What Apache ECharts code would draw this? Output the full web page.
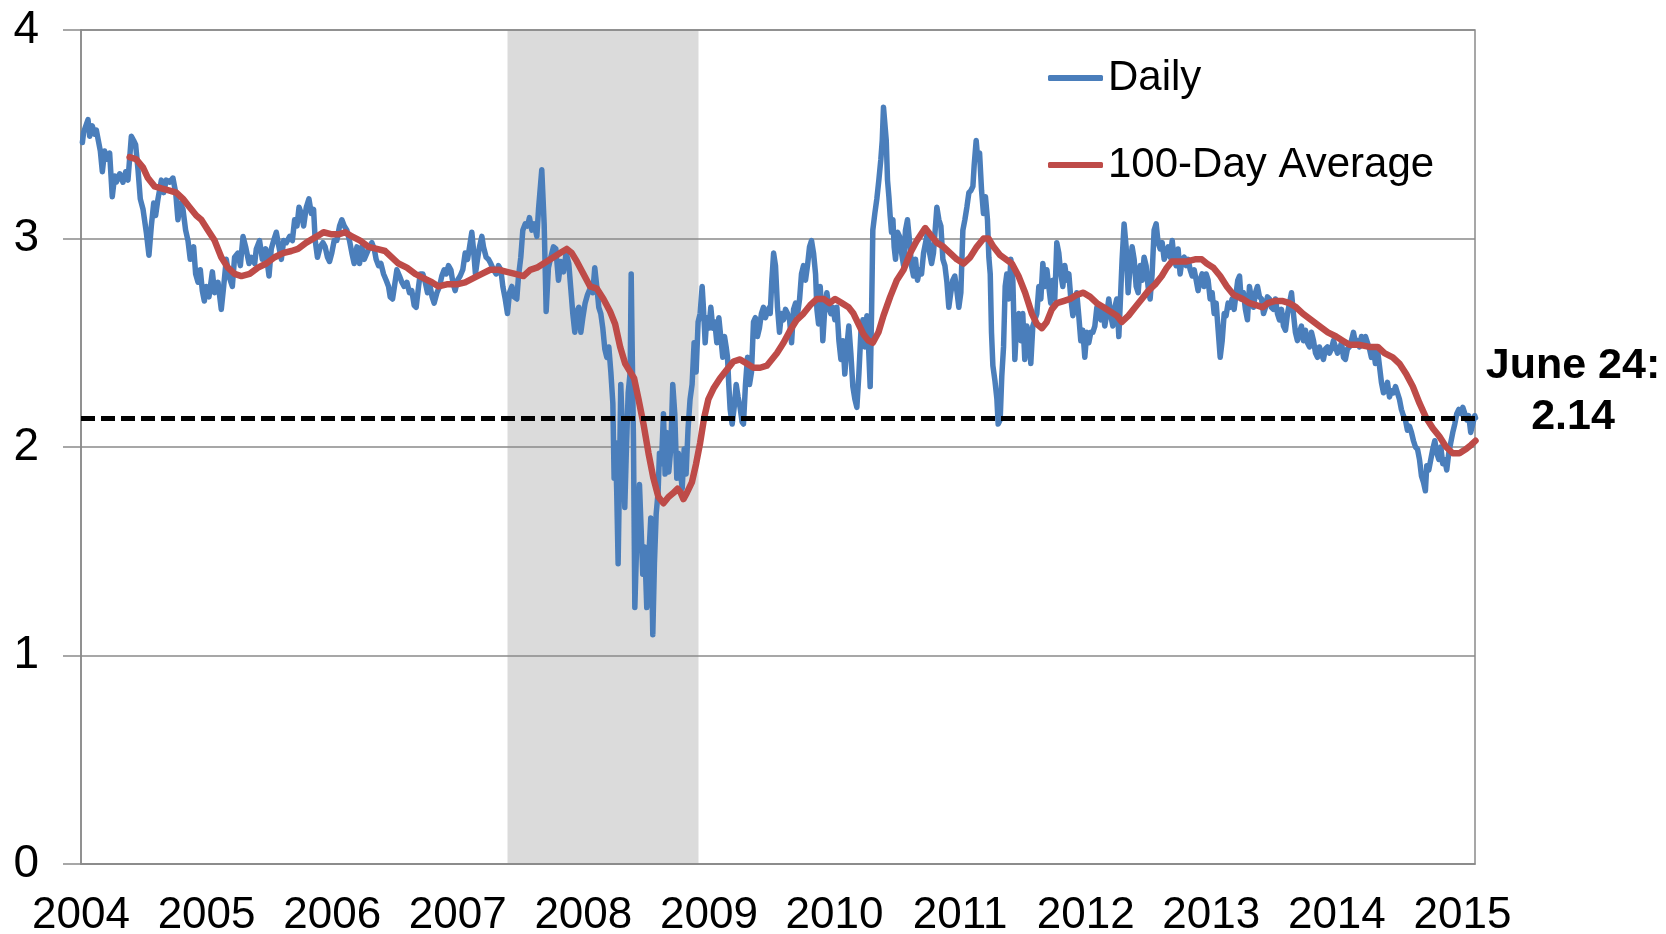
<!DOCTYPE html>
<html>
<head>
<meta charset="utf-8">
<title>Daily and 100-Day Average</title>
<script src="https://cdn.jsdelivr.net/npm/echarts@6/dist/echarts.min.js"></script>
<style>
    html, body {margin: 0; padding: 0; background: #fff;}
    #chart {width: 1666px; height: 934px;}
</style>
</head>
<body>
<div id="chart"></div>
<script>
var dailyDates = [
    2004.011,2004.021,2004.056,2004.069,2004.090,2004.109,2004.122,2004.138,2004.154,2004.170,2004.188,2004.207,2004.228,2004.249,2004.268,2004.281,2004.308,2004.334,2004.356,2004.374,
    2004.401,2004.419,2004.435,2004.454,2004.472,2004.494,2004.520,2004.541,2004.560,2004.579,2004.594,2004.613,2004.640,2004.658,2004.679,2004.706,2004.732,2004.754,2004.772,2004.791,
    2004.812,2004.833,2004.852,2004.870,2004.897,2004.913,2004.932,2004.950,2004.966,2004.982,2004.998,2005.019,2005.046,2005.064,2005.091,2005.117,2005.136,2005.157,2005.178,2005.205,
    2005.223,2005.250,2005.269,2005.290,2005.311,2005.338,2005.356,2005.383,2005.396,2005.422,2005.444,2005.470,2005.497,2005.515,2005.534,2005.555,2005.576,2005.595,2005.614,2005.635,
    2005.661,2005.683,2005.701,2005.720,2005.736,2005.754,2005.773,2005.794,2005.815,2005.834,2005.852,
    2005.865,2005.883,2005.905,2005.926,2005.944,2005.963,2005.979,2005.997,2006.016,2006.037,2006.059,2006.077,2006.096,2006.117,2006.138,2006.157,2006.175,2006.197,2006.218,2006.236,
    2006.255,2006.276,2006.297,2006.316,2006.335,2006.350,2006.369,2006.388,2006.409,2006.430,2006.449,2006.462,2006.481,2006.496,2006.515,2006.536,2006.555,2006.573,2006.595,2006.616,
    2006.634,2006.653,2006.669,2006.688,2006.701,2006.722,2006.741,2006.759,2006.780,2006.796,2006.812,2006.834,2006.855,2006.873,2006.892,2006.908,2006.926,2006.945,2006.961,2006.979,
    2006.998,2007.019,2007.040,2007.059,2007.078,2007.094,2007.112,2007.125,2007.141,2007.157,2007.173,2007.192,2007.205,2007.226,2007.245,2007.263,2007.285,2007.306,2007.324,2007.343,
    2007.359,2007.378,2007.396,2007.412,2007.431,2007.449,2007.470,2007.484,2007.502,2007.518,2007.537,2007.555,2007.571,2007.590,2007.608,2007.630,2007.643,
    2007.669,2007.688,2007.704,2007.722,2007.741,2007.762,2007.781,2007.802,2007.821,2007.842,2007.863,2007.884,2007.900,2007.916,2007.932,2007.948,2007.964,2007.980,2007.996,2008.014,
    2008.033,2008.054,2008.075,2008.091,2008.107,2008.123,2008.139,2008.155,2008.171,2008.187,2008.203,2008.219,2008.235,2008.245,2008.256,2008.266,2008.277,2008.288,2008.298,2008.314,
    2008.330,2008.341,2008.357,2008.373,2008.381,2008.389,2008.399,2008.410,2008.420,2008.431,2008.447,2008.460,2008.473,2008.489,2008.505,2008.521,2008.537,2008.553,2008.566,2008.580,
    2008.595,2008.606,2008.622,2008.638,2008.651,2008.664,2008.680,2008.696,2008.712,2008.728,2008.744,2008.757,2008.771,2008.787,2008.803,2008.818,2008.834,2008.850,2008.866,2008.882,
    2008.898,2008.914,2008.930,2008.946,2008.956,2008.970,2008.983,2008.999,2009.015,2009.031,2009.047,2009.063,2009.079,2009.094,2009.110,2009.124,2009.137,2009.148,2009.158,2009.169,
    2009.185,2009.201,2009.217,2009.232,2009.248,2009.264,2009.275,2009.291,2009.307,2009.323,2009.339,2009.355,2009.370,2009.386,2009.402,2009.418,2009.434,2009.450,2009.466,2009.482,
    2009.488,2009.501,2009.515,2009.530,2009.546,2009.562,2009.578,2009.594,2009.610,2009.626,2009.642,2009.658,2009.674,2009.690,2009.706,2009.722,2009.737,2009.753,2009.769,2009.785,
    2009.801,2009.817,2009.833,2009.849,2009.860,2009.873,2009.886,2009.899,2009.907,2009.923,2009.939,2009.955,2009.971,2009.987,2010.003,2010.019,2010.035,2010.051,2010.067,2010.082,
    2010.098,2010.114,2010.130,2010.146,2010.162,2010.178,2010.194,2010.210,2010.226,2010.242,2010.258,2010.271,2010.284,2010.295,2010.305,2010.321,2010.337,2010.353,2010.369,2010.380,
    2010.390,2010.401,2010.412,2010.422,2010.433,2010.443,2010.454,2010.465,2010.475,2010.486,2010.502,2010.518,2010.534,2010.550,2010.565,2010.581,2010.597,2010.613,2010.629,2010.645,
    2010.661,2010.677,2010.693,2010.709,2010.725,2010.741,2010.757,2010.773,2010.788,2010.804,2010.815,2010.831,2010.847,2010.863,2010.879,2010.895,2010.910,2010.926,2010.942,2010.958,
    2010.974,2010.990,2011.006,2011.022,2011.038,2011.054,2011.070,2011.086,2011.102,2011.112,2011.128,2011.139,2011.155,2011.171,2011.186,2011.202,2011.218,2011.229,2011.240,2011.250,
    2011.261,2011.277,2011.293,2011.303,
    2011.319,2011.332,2011.346,2011.359,2011.372,2011.388,2011.404,2011.420,2011.436,2011.452,2011.468,2011.484,2011.499,2011.515,2011.531,2011.547,2011.563,2011.579,2011.595,2011.611,
    2011.627,2011.643,2011.659,2011.675,2011.691,2011.706,2011.722,2011.738,2011.754,2011.770,2011.786,2011.802,2011.818,2011.834,2011.850,2011.866,2011.882,2011.898,2011.913,2011.929,
    2011.945,2011.961,2011.977,2011.993,2012.009,2012.025,2012.041,2012.057,2012.073,2012.089,2012.105,2012.121,2012.136,2012.152,2012.168,2012.184,2012.200,2012.216,2012.232,2012.248,
    2012.264,2012.274,2012.290,2012.306,2012.322,2012.338,2012.354,2012.370,2012.386,2012.402,2012.418,2012.434,2012.450,2012.465,2012.481,2012.497,2012.513,2012.529,2012.545,2012.561,
    2012.577,2012.593,2012.609,2012.625,2012.641,2012.657,2012.673,2012.689,2012.704,2012.720,2012.736,2012.752,2012.768,2012.784,2012.800,2012.816,2012.832,2012.848,2012.864,2012.880,
    2012.895,2012.911,2012.927,2012.943,2012.959,2012.975,2012.991,2013.007,2013.023,2013.039,2013.055,2013.071,2013.087,2013.103,2013.118,2013.134,2013.150,2013.166,2013.182,
    2013.211,2013.225,2013.238,2013.256,2013.272,2013.288,2013.304,2013.320,2013.336,2013.352,2013.368,2013.384,2013.400,2013.416,2013.432,2013.447,2013.463,2013.479,2013.495,2013.511,
    2013.527,2013.543,2013.559,2013.575,2013.591,2013.607,2013.623,2013.639,2013.654,2013.670,2013.686,2013.702,2013.718,2013.734,2013.750,2013.766,2013.782,2013.798,2013.814,2013.830,
    2013.846,2013.861,2013.877,2013.893,2013.909,2013.925,2013.941,2013.957,2013.973,2013.989,2014.005,2014.021,2014.037,2014.053,2014.068,2014.084,2014.100,2014.116,2014.132,2014.148,
    2014.164,2014.180,2014.196,2014.212,2014.228,2014.244,2014.260,2014.275,2014.291,2014.307,2014.323,2014.339,2014.355,2014.371,2014.387,2014.403,2014.419,2014.435,2014.451,2014.467,
    2014.482,2014.498,2014.514,2014.530,2014.546,2014.562,2014.578,2014.594,2014.610,2014.626,2014.642,2014.658,2014.674,2014.690,2014.705,2014.716,2014.732,2014.748,2014.764,2014.780,
    2014.796,2014.812,2014.828,2014.843,2014.859,2014.875,2014.891,2014.907,2014.923,2014.939,2014.955,2014.971,2014.987,2015.003,2015.019,2015.035,2015.050,2015.066,2015.082,2015.098,
    2015.104
];
var dailyValues = [
    3.46,3.51,3.57,3.49,3.54,3.50,3.52,3.47,3.42,3.32,3.42,3.38,3.41,3.20,3.30,3.27,3.31,3.27,3.32,3.28,
    3.49,3.47,3.45,3.33,3.19,3.14,3.03,2.92,3.06,3.17,3.11,3.19,3.28,3.22,3.28,3.27,3.29,3.22,3.09,3.17,
    3.14,3.04,2.99,2.90,2.96,2.83,2.79,2.85,2.75,2.70,2.77,2.72,2.84,2.74,2.79,2.66,2.77,2.90,2.82,2.77,
    2.91,2.93,2.87,3.01,2.96,2.88,2.91,2.88,2.95,2.99,2.90,2.95,2.82,2.95,2.99,3.03,2.96,2.90,2.99,2.98,
    3.01,2.99,3.09,3.06,3.15,3.12,3.06,3.15,3.19,3.12,3.14,
    2.99,2.91,2.96,2.98,2.96,2.91,2.89,2.93,2.99,2.99,3.06,3.09,3.06,3.04,2.99,2.93,2.88,2.96,2.88,2.96,
    2.90,2.93,2.96,2.98,2.95,2.90,2.87,2.88,2.83,2.80,2.77,2.72,2.71,2.77,2.85,2.82,2.79,2.77,2.79,2.74,
    2.75,2.68,2.67,2.77,2.83,2.83,2.79,2.74,2.77,2.72,2.69,2.74,2.77,2.82,2.85,2.83,2.87,2.85,2.79,2.75,
    2.80,2.82,2.85,2.93,2.90,2.96,3.03,2.95,2.83,2.90,2.96,3.01,2.96,2.91,2.90,2.88,2.85,2.83,2.87,2.85,
    2.77,2.71,2.64,2.74,2.77,2.72,2.71,2.82,2.91,3.04,3.07,3.06,3.10,3.04,3.07,3.01,3.14,
    3.33,3.07,2.65,2.86,2.91,2.96,2.95,2.80,2.89,2.84,2.93,2.88,2.76,2.64,2.55,2.65,2.67,2.55,2.62,2.69,
    2.73,2.76,2.74,2.86,2.77,2.67,2.64,2.57,2.47,2.43,2.48,2.36,2.21,1.85,2.02,1.78,1.44,1.87,2.30,2.04,
    1.71,1.95,2.26,2.36,2.83,2.47,2.04,1.23,1.44,1.64,1.82,1.61,1.39,1.52,1.23,1.47,1.66,1.10,1.44,1.68,
    1.78,1.97,1.92,2.16,1.87,2.07,1.88,1.99,2.30,2.16,1.85,1.97,1.90,1.80,1.99,1.87,2.09,2.23,2.30,2.50,
    2.36,2.60,2.64,2.77,2.67,2.50,2.62,2.57,2.67,2.57,2.60,2.50,2.62,2.53,2.43,2.53,2.48,2.43,2.30,2.18,
    2.11,2.19,2.30,2.24,2.19,2.12,2.11,2.30,2.43,2.30,2.36,2.60,2.62,2.53,2.57,2.64,2.67,2.62,2.65,2.67,
    2.64,2.80,2.93,2.87,2.67,2.55,2.64,2.61,2.66,2.64,2.61,2.50,2.66,2.69,2.64,2.71,2.83,2.87,2.80,2.87,
    2.96,2.99,2.93,2.83,2.66,2.59,2.77,2.64,2.51,2.67,2.74,2.67,2.64,2.67,2.61,2.67,2.51,2.42,2.51,2.35,
    2.48,2.58,2.45,2.29,2.23,2.19,2.35,2.55,2.61,2.48,2.63,2.48,2.29,2.64,3.04,3.12,3.19,3.28,3.38,3.47,
    3.63,3.63,3.47,3.28,3.20,3.11,3.03,3.09,2.96,2.90,3.03,3.01,2.93,2.87,3.04,3.09,2.99,2.87,2.82,2.90,
    2.80,2.85,2.83,2.93,2.98,3.03,2.93,2.88,2.93,3.06,3.15,3.09,3.06,2.90,2.87,2.79,2.67,2.74,2.80,2.82,
    2.75,2.67,2.74,3.04,3.09,3.15,3.22,3.23,3.25,3.35,3.47,3.39,3.41,3.23,3.12,3.20,3.09,2.91,2.83,2.55,
    2.39,2.32,2.23,2.11,
    2.13,2.34,2.48,2.77,2.83,2.71,2.90,2.80,2.42,2.61,2.64,2.51,2.64,2.42,2.58,2.55,2.40,2.58,2.61,2.64,
    2.77,2.71,2.88,2.77,2.85,2.77,2.69,2.80,2.71,2.98,2.93,2.83,2.77,2.87,2.80,2.83,2.71,2.63,2.67,2.74,
    2.63,2.51,2.56,2.43,2.55,2.50,2.55,2.55,2.58,2.67,2.63,2.61,2.67,2.58,2.64,2.71,2.63,2.58,2.67,2.71,
    2.53,2.67,2.90,3.07,2.96,2.74,2.87,2.96,2.90,2.77,2.74,2.87,2.80,2.91,2.87,2.77,2.71,2.83,3.04,3.07,
    2.98,2.95,2.98,2.90,2.93,2.96,2.91,2.99,2.90,2.87,2.95,2.83,2.90,2.91,2.87,2.90,2.85,2.82,2.85,2.80,
    2.75,2.80,2.83,2.77,2.83,2.80,2.71,2.74,2.64,2.69,2.56,2.43,2.51,2.64,2.63,2.69,2.67,2.71,2.66,
    2.80,2.82,2.71,2.74,2.66,2.61,2.77,2.71,2.67,2.74,2.77,2.72,2.71,2.64,2.67,2.72,2.71,2.67,2.66,2.71,
    2.64,2.61,2.66,2.58,2.56,2.64,2.69,2.74,2.64,2.55,2.51,2.55,2.58,2.51,2.56,2.50,2.48,2.55,2.51,2.45,
    2.43,2.48,2.45,2.42,2.47,2.48,2.45,2.47,2.51,2.48,2.45,2.47,2.50,2.43,2.42,2.47,2.48,2.51,2.55,2.50,
    2.51,2.48,2.53,2.51,2.53,2.50,2.47,2.43,2.47,2.40,2.47,2.39,2.31,2.26,2.27,2.31,2.24,2.27,2.26,2.29,
    2.26,2.23,2.18,2.15,2.13,2.08,2.10,2.07,2.03,2.00,1.99,1.94,1.86,1.83,1.79,1.91,1.89,1.94,1.99,2.03,
    1.97,1.94,2.00,1.92,1.94,1.89,1.97,2.02,2.07,2.11,2.16,2.18,2.16,2.19,2.16,2.13,2.15,2.07,2.11,2.15,
    2.14
];

var avgDates = [
    2004.387,2004.440,2004.494,2004.533,2004.586,2004.640,2004.706,2004.759,2004.812,2004.865,2004.918,2004.958,2005.011,2005.064,2005.117,2005.170,2005.223,2005.277,2005.343,2005.409,
    2005.476,2005.542,2005.608,2005.675,2005.728,2005.794,2005.878,2005.931,2005.998,2006.051,2006.104,2006.157,2006.223,2006.289,2006.356,2006.422,2006.475,2006.528,2006.595,2006.661,
    2006.727,2006.794,2006.847,2006.913,2006.993,2007.059,2007.125,2007.192,2007.258,2007.324,2007.391,2007.457,2007.523,2007.577,2007.630,2007.709,2007.762,2007.815,2007.868,2007.908,
    2007.948,2008.001,2008.054,2008.107,2008.160,2008.213,2008.253,2008.293,2008.333,2008.373,2008.404,2008.439,2008.479,2008.519,2008.558,2008.598,2008.638,2008.678,2008.718,2008.750,
    2008.776,2008.797,2008.824,2008.864,2008.898,2008.930,2008.962,2008.996,2009.036,2009.089,2009.142,2009.195,2009.248,2009.301,2009.355,2009.408,2009.461,2009.541,2009.594,2009.647,
    2009.700,2009.753,2009.806,2009.860,2009.913,2009.960,2010.005,2010.059,2010.112,2010.151,2010.191,2010.231,2010.271,2010.305,2010.350,2010.390,2010.443,2010.496,2010.550,2010.603,
    2010.656,2010.722,2010.775,2010.815,2010.868,2010.921,2010.974,2011.027,2011.080,2011.133,2011.187,2011.226,2011.266,2011.319,2011.412,2011.465,2011.518,2011.571,2011.611,2011.651,
    2011.690,2011.730,2011.770,2011.823,2011.876,2011.929,2011.982,2012.036,2012.089,2012.142,2012.195,2012.248,2012.288,2012.341,2012.394,2012.447,2012.500,2012.553,2012.606,2012.646,
    2012.686,2012.739,2012.805,2012.871,2012.925,2012.964,2013.017,2013.071,2013.124,2013.177,2013.251,2013.304,2013.357,2013.410,2013.450,2013.503,2013.570,2013.623,2013.676,2013.729,
    2013.795,2013.861,2013.928,2013.994,2014.047,2014.100,2014.180,2014.260,2014.326,2014.379,2014.445,2014.498,2014.552,2014.605,2014.658,2014.711,2014.764,2014.817,2014.870,2014.923,
    2014.976,2015.029,2015.069,2015.104
];
var avgValues = [
    3.39,3.38,3.34,3.29,3.25,3.24,3.23,3.22,3.19,3.15,3.11,3.09,3.04,2.99,2.91,2.86,2.83,2.82,2.83,2.86,
    2.88,2.91,2.93,2.94,2.95,2.98,3.01,3.03,3.02,3.02,3.03,3.01,2.99,2.96,2.95,2.94,2.91,2.88,2.86,2.83,
    2.81,2.79,2.77,2.78,2.78,2.79,2.81,2.83,2.85,2.85,2.84,2.83,2.82,2.85,2.86,2.89,2.91,2.93,2.95,2.93,
    2.89,2.83,2.77,2.76,2.71,2.65,2.59,2.48,2.40,2.36,2.33,2.23,2.11,1.97,1.85,1.76,1.73,1.76,1.78,1.80,
    1.78,1.75,1.78,1.83,1.92,2.02,2.14,2.23,2.28,2.33,2.37,2.41,2.42,2.40,2.38,2.38,2.39,2.45,2.50,2.56,
    2.61,2.64,2.68,2.71,2.71,2.69,2.71,2.69,2.67,2.64,2.59,2.54,2.51,2.50,2.55,2.63,2.72,2.80,2.85,2.93,
    2.99,3.05,3.01,2.98,2.96,2.93,2.90,2.88,2.91,2.96,3.00,3.00,2.96,2.92,2.88,2.82,2.74,2.64,2.59,2.57,
    2.60,2.66,2.69,2.70,2.71,2.73,2.74,2.72,2.69,2.67,2.65,2.63,2.60,2.63,2.67,2.71,2.75,2.78,2.82,2.86,
    2.89,2.89,2.89,2.90,2.90,2.88,2.86,2.82,2.77,2.73,2.71,2.69,2.68,2.67,2.69,2.70,2.70,2.69,2.67,2.64,
    2.61,2.58,2.55,2.53,2.51,2.49,2.49,2.48,2.48,2.45,2.43,2.40,2.35,2.29,2.21,2.14,2.09,2.05,2.00,1.97,
    1.97,1.99,2.01,2.03
];

var recession = [2007.396, 2008.917];
var lastLabel = 'June 24:';
var lastValue = 2.14;
var seriesNames = ['Daily', '100-Day Average'];

var FONT = '"Liberation Sans", Arial, sans-serif';
var my_chart = echarts.init(document.getElementById('chart'));

function pairs(dates, values) {
    return dates.map(function (d, i) {
        return [d, values[i]];
    });
}

var option = {
    animation: false,
    textStyle: {fontFamily: FONT},
    grid: {
        left: 81,
        right: 191,
        top: 30,
        bottom: 70,
        outerBoundsMode: 'none',
        containLabel: false,
        show: true,
        borderColor: '#8a8a8a',
        borderWidth: 1.5
    },
    legend: {
        data: seriesNames,
        orient: 'vertical',
        left: 1043,
        top: 50,
        itemWidth: 55,
        itemHeight: 6,
        itemGap: 41,
        icon: 'roundRect',
        textStyle: {fontSize: 42, color: '#000', fontFamily: FONT, lineHeight: 46}
    },
    xAxis: {
        type: 'value',
        min: 2004,
        max: 2015.1,
        interval: 1,
        axisLine: {lineStyle: {color: '#8a8a8a', width: 1.5}},
        axisTick: {show: false},
        splitLine: {show: false},
        axisLabel: {
            fontSize: 44,
            color: '#000',
            fontFamily: FONT,
            margin: 30,
            showMaxLabel: false,
            formatter: function (value) {
                return Math.abs(value - Math.round(value)) < 1e-6 ? String(Math.round(value)) : '';
            }
        }
    },
    yAxis: {
        type: 'value',
        min: 0,
        max: 4,
        interval: 1,
        axisLine: {show: true, lineStyle: {color: '#8a8a8a', width: 1.5}},
        axisTick: {show: true, length: 18, lineStyle: {color: '#8a8a8a', width: 1.5}},
        splitLine: {lineStyle: {color: '#8a8a8a', width: 1.5}},
        axisLabel: {fontSize: 46, color: '#000', fontFamily: FONT, margin: 42}
    },
    series: [
        {
            name: seriesNames[0],
            type: 'line',
            data: pairs(dailyDates, dailyValues),
            showSymbol: false,
            symbol: 'none',
            z: 3,
            color: '#4a7ebb',
            lineStyle: {color: '#4a7ebb', width: 5.5, cap: 'round', join: 'round'},
            markArea: {
                silent: true,
                itemStyle: {color: 'rgba(140,140,140,0.31)'},
                data: [[{xAxis: recession[0]}, {xAxis: recession[1]}]]
            },
            markLine: {
                silent: true,
                symbol: 'none',
                lineStyle: {color: '#000', width: 5, type: [14, 6]},
                label: {
                    show: true,
                    position: 'end',
                    distance: 98,
                    align: 'center',
                    offset: [0, -26],
                    formatter: function (p) {
                        return lastLabel + '\n' + p.value.toFixed(2);
                    },
                    fontSize: 43,
                    fontWeight: 'bold',
                    lineHeight: 51,
                    color: '#000',
                    fontFamily: FONT
                },
                data: [{yAxis: lastValue}]
            }
        },
        {
            name: seriesNames[1],
            type: 'line',
            data: pairs(avgDates, avgValues),
            showSymbol: false,
            symbol: 'none',
            z: 4,
            color: '#be4b48',
            lineStyle: {color: '#be4b48', width: 6.5, cap: 'round', join: 'round'}
        }
    ]
};

my_chart.setOption(option);
</script>
</body>
</html>
